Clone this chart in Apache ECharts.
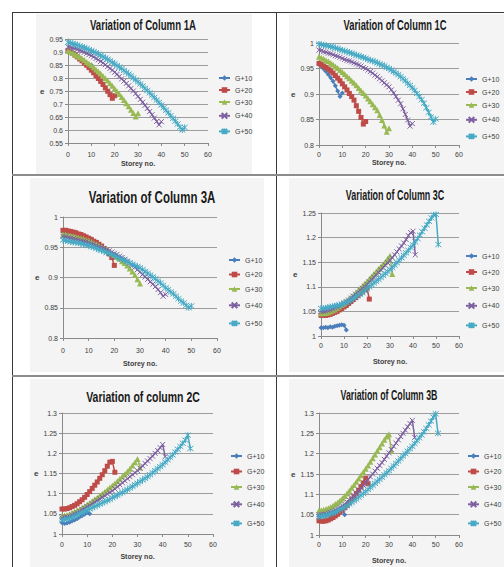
<!DOCTYPE html>
<html><head><meta charset="utf-8">
<script src="https://cdn.jsdelivr.net/npm/echarts@6/dist/echarts.min.js"></script>
<style>html,body{margin:0;padding:0;background:#fff}#c{width:504px;height:567px}</style>
</head><body><div id="c"></div>
<script>
const FONT = "'Liberation Sans',Arial,sans-serif";
const seriesNames = ['G+10','G+20','G+30','G+40','G+50'];
const panelTitles = ['Variation of Column 1A','Variation of Column 1C','Variation of Column 3A','Variation of Column 3C','Variation of column 2C','Variation of Column 3B'];
const yRanges = [[0.55,0.95],[0.8,1],[0.8,1],[1,1.25],[1,1.3],[1,1.3]];
const yStep = 0.05;
const xTicks = [0, 60, 10];
const xAxisTitle = 'Storey no.';
const yAxisTitle = 'e';

// Column 1A
const col1A_g10 = [0.908,0.903,0.898,0.892,0.885,0.878,0.870,0.862,0.853,0.844,0.850];
const col1A_g20 = [0.905,0.900,0.894,0.888,0.881,0.873,0.866,0.857,0.849,0.840,0.830,0.820,0.809,0.798,0.787,0.775,0.762,0.749,0.736,0.722,0.732];
const col1A_g30 = [0.905,0.901,0.896,0.891,0.886,0.881,0.875,0.869,0.862,0.856,0.849,0.841,0.833,0.825,0.817,0.808,0.799,0.790,0.780,0.770,0.760,0.749,0.738,0.727,0.715,0.703,0.691,0.678,0.665,0.652,0.664];
const col1A_g40 = [0.920,0.918,0.915,0.913,0.910,0.907,0.903,0.899,0.895,0.890,0.886,0.881,0.875,0.870,0.864,0.858,0.851,0.844,0.837,0.830,0.822,0.814,0.806,0.797,0.788,0.779,0.770,0.760,0.750,0.740,0.729,0.718,0.707,0.695,0.683,0.671,0.659,0.646,0.633,0.620,0.632];
const col1A_g50 = [0.937,0.935,0.932,0.930,0.927,0.923,0.920,0.917,0.913,0.909,0.905,0.901,0.897,0.892,0.887,0.882,0.877,0.872,0.866,0.860,0.855,0.848,0.842,0.836,0.829,0.822,0.815,0.808,0.800,0.793,0.785,0.777,0.769,0.760,0.752,0.743,0.734,0.725,0.715,0.706,0.696,0.686,0.676,0.666,0.655,0.645,0.634,0.623,0.611,0.600,0.610];

// Column 1C
const col1C_g10 = [0.958,0.954,0.949,0.944,0.938,0.932,0.925,0.916,0.906,0.895,0.902];
const col1C_g20 = [0.960,0.958,0.955,0.952,0.949,0.945,0.941,0.936,0.931,0.926,0.920,0.914,0.908,0.901,0.895,0.888,0.877,0.866,0.854,0.841,0.846];
const col1C_g30 = [0.973,0.971,0.969,0.966,0.964,0.961,0.958,0.954,0.951,0.947,0.943,0.939,0.935,0.931,0.926,0.922,0.917,0.912,0.907,0.902,0.897,0.891,0.886,0.880,0.874,0.868,0.859,0.849,0.838,0.826,0.833];
const col1C_g40 = [0.986,0.985,0.983,0.982,0.980,0.979,0.977,0.975,0.974,0.972,0.970,0.968,0.966,0.965,0.963,0.961,0.959,0.957,0.955,0.952,0.950,0.947,0.944,0.941,0.937,0.934,0.930,0.926,0.922,0.918,0.914,0.908,0.902,0.895,0.888,0.881,0.871,0.860,0.849,0.837,0.842];
const col1C_g50 = [0.998,0.997,0.996,0.995,0.994,0.993,0.992,0.990,0.989,0.987,0.986,0.984,0.983,0.981,0.980,0.978,0.976,0.975,0.973,0.972,0.970,0.968,0.966,0.965,0.963,0.961,0.959,0.957,0.955,0.952,0.950,0.947,0.944,0.941,0.938,0.934,0.930,0.926,0.921,0.917,0.912,0.907,0.901,0.895,0.889,0.882,0.873,0.864,0.855,0.845,0.851];

// Column 3A
const col3A_g10 = [0.975,0.975,0.974,0.974,0.973,0.972,0.971,0.970,0.968,0.967,0.964];
const col3A_g20 = [0.978,0.978,0.977,0.976,0.975,0.974,0.972,0.971,0.969,0.967,0.965,0.963,0.960,0.958,0.955,0.952,0.948,0.944,0.939,0.933,0.920];
const col3A_g30 = [0.971,0.971,0.970,0.969,0.968,0.967,0.966,0.965,0.964,0.962,0.961,0.959,0.957,0.955,0.953,0.951,0.948,0.946,0.943,0.940,0.937,0.934,0.931,0.927,0.924,0.920,0.915,0.910,0.904,0.897,0.890];
const col3A_g40 = [0.968,0.967,0.966,0.965,0.964,0.963,0.962,0.961,0.960,0.959,0.958,0.956,0.955,0.953,0.951,0.950,0.948,0.946,0.944,0.942,0.940,0.938,0.935,0.933,0.930,0.927,0.924,0.920,0.917,0.913,0.909,0.905,0.901,0.897,0.893,0.889,0.885,0.880,0.875,0.869,0.872];
const col3A_g50 = [0.962,0.961,0.960,0.959,0.958,0.958,0.957,0.956,0.955,0.954,0.953,0.951,0.950,0.948,0.946,0.945,0.943,0.941,0.940,0.938,0.936,0.934,0.932,0.930,0.928,0.926,0.924,0.922,0.920,0.918,0.916,0.913,0.910,0.907,0.904,0.901,0.898,0.894,0.891,0.887,0.883,0.880,0.876,0.873,0.869,0.865,0.861,0.858,0.854,0.850,0.853];

// Column 3C
const col3C_g10 = [1.017,1.017,1.018,1.017,1.019,1.018,1.020,1.021,1.022,1.023,1.022,1.012];
const col3C_g20 = [1.042,1.042,1.042,1.043,1.044,1.046,1.048,1.050,1.053,1.056,1.059,1.062,1.066,1.070,1.074,1.078,1.082,1.086,1.090,1.094,1.098,1.075];
const col3C_g30 = [1.046,1.046,1.047,1.048,1.050,1.052,1.054,1.057,1.060,1.063,1.066,1.070,1.074,1.078,1.082,1.087,1.091,1.096,1.101,1.106,1.111,1.116,1.121,1.126,1.131,1.136,1.141,1.146,1.151,1.157,1.163,1.126];
const col3C_g40 = [1.050,1.050,1.051,1.052,1.053,1.055,1.057,1.059,1.061,1.064,1.067,1.070,1.073,1.077,1.081,1.085,1.089,1.093,1.097,1.101,1.105,1.110,1.115,1.119,1.124,1.129,1.134,1.139,1.144,1.149,1.154,1.159,1.165,1.171,1.177,1.183,1.189,1.196,1.204,1.210,1.213,1.165];
const col3C_g50 = [1.056,1.056,1.057,1.058,1.059,1.060,1.061,1.062,1.063,1.065,1.066,1.068,1.070,1.073,1.076,1.079,1.082,1.085,1.088,1.092,1.096,1.100,1.104,1.108,1.111,1.115,1.119,1.123,1.127,1.131,1.135,1.139,1.144,1.149,1.154,1.159,1.164,1.169,1.174,1.180,1.185,1.191,1.198,1.205,1.212,1.219,1.226,1.233,1.240,1.246,1.247,1.186];

// Column 2C
const col2C_g10 = [1.028,1.026,1.027,1.029,1.032,1.035,1.038,1.042,1.045,1.049,1.053,1.050];
const col2C_g20 = [1.062,1.062,1.063,1.065,1.068,1.071,1.075,1.080,1.085,1.091,1.098,1.105,1.113,1.121,1.129,1.138,1.147,1.157,1.168,1.178,1.180,1.153];
const col2C_g30 = [1.045,1.046,1.047,1.049,1.052,1.055,1.058,1.061,1.065,1.069,1.073,1.077,1.081,1.086,1.090,1.095,1.100,1.105,1.110,1.115,1.120,1.125,1.131,1.137,1.143,1.149,1.155,1.162,1.170,1.178,1.186,1.165];
const col2C_g40 = [1.040,1.041,1.042,1.044,1.047,1.050,1.053,1.057,1.061,1.064,1.068,1.071,1.075,1.079,1.083,1.087,1.091,1.095,1.099,1.103,1.107,1.112,1.117,1.122,1.127,1.132,1.137,1.142,1.147,1.152,1.157,1.163,1.169,1.175,1.181,1.187,1.193,1.200,1.207,1.214,1.222,1.192];
const col2C_g50 = [1.035,1.036,1.037,1.039,1.041,1.044,1.047,1.050,1.053,1.056,1.059,1.062,1.065,1.068,1.071,1.074,1.077,1.080,1.083,1.086,1.090,1.093,1.096,1.100,1.103,1.107,1.110,1.114,1.118,1.122,1.126,1.130,1.134,1.138,1.142,1.147,1.152,1.157,1.162,1.167,1.172,1.178,1.184,1.190,1.196,1.203,1.210,1.217,1.225,1.233,1.245,1.212];

// Column 3B
const col3B_g10 = [1.046,1.046,1.047,1.048,1.049,1.050,1.051,1.053,1.055,1.057,1.062,1.050];
const col3B_g20 = [1.035,1.034,1.034,1.035,1.037,1.040,1.043,1.047,1.051,1.056,1.061,1.067,1.073,1.080,1.087,1.094,1.102,1.110,1.119,1.128,1.140,1.126];
const col3B_g30 = [1.060,1.061,1.062,1.064,1.066,1.069,1.072,1.076,1.080,1.085,1.090,1.096,1.102,1.109,1.116,1.123,1.131,1.139,1.147,1.155,1.163,1.171,1.180,1.189,1.198,1.207,1.216,1.225,1.234,1.242,1.248,1.207];
const col3B_g40 = [1.050,1.050,1.051,1.052,1.054,1.056,1.058,1.061,1.064,1.068,1.072,1.076,1.081,1.086,1.091,1.097,1.103,1.109,1.115,1.122,1.129,1.136,1.143,1.150,1.157,1.164,1.171,1.178,1.186,1.194,1.202,1.210,1.218,1.226,1.234,1.242,1.250,1.258,1.266,1.274,1.282,1.240];
const col3B_g50 = [1.045,1.046,1.047,1.048,1.050,1.052,1.054,1.056,1.059,1.062,1.065,1.068,1.072,1.076,1.080,1.084,1.088,1.093,1.098,1.102,1.107,1.112,1.117,1.122,1.127,1.132,1.137,1.142,1.148,1.153,1.158,1.164,1.170,1.176,1.182,1.188,1.194,1.200,1.206,1.212,1.218,1.225,1.232,1.239,1.246,1.254,1.262,1.271,1.280,1.290,1.298,1.250];

const panelData = [
  [col1A_g10,col1A_g20,col1A_g30,col1A_g40,col1A_g50],
  [col1C_g10,col1C_g20,col1C_g30,col1C_g40,col1C_g50],
  [col3A_g10,col3A_g20,col3A_g30,col3A_g40,col3A_g50],
  [col3C_g10,col3C_g20,col3C_g30,col3C_g40,col3C_g50],
  [col2C_g10,col2C_g20,col2C_g30,col2C_g40,col2C_g50],
  [col3B_g10,col3B_g20,col3B_g30,col3B_g40,col3B_g50]
];

// ---- layout & style (separate from data) ----
// title: [centerX, centerY, fontSize, scaleX]; legend: [left, top, itemGap]
const layout = [
  {grid:[68,39,140,104], title:[143,25,14,0.69], legend:[218,74.5,5], yGap:18, xGap:17, xMargin:8, bg:[36,14,216,160]},
  {grid:[319,43,140,102], title:[395,25,14,0.67], legend:[465,75.5,6], yGap:20, xGap:14, xMargin:6, bg:[289,14,215,160]},
  {grid:[63,217,154,121], title:[152,197,16,0.72], legend:[228,256.5,7.5], yGap:22, xGap:22, xMargin:9, bg:[30,178,234,194]},
  {grid:[321,213,138,123], title:[395,195,14,0.64], legend:[465,252.5,9], yGap:18, xGap:22, xMargin:6, bg:[289,178,215,194]},
  {grid:[62,413,151,121], title:[143,397,15,0.70], legend:[230,452.5,8.5], yGap:22, xGap:19, xMargin:7, bg:[30,379,234,188]},
  {grid:[319,413,140,122], title:[389,395,14,0.63], legend:[467,452.5,8.5], yGap:16, xGap:22, xMargin:6, bg:[289,379,215,188]}
];
const lineColors = ['#4A7EBB','#BE4B48','#98B954','#7D60A0','#46AAC5'];
const symbols = ['diamond','rect','triangle','path://M0 0L10 10M10 0L0 10','path://M0 0L10 10M10 0L0 10M5 -1L5 11'];
const symbolSizes = [5,5,6,5,6];

const grids=[], xAxes=[], yAxes=[], series=[], legends=[], graphics=[];
layout.forEach((L,p)=>{
  grids.push({left:L.grid[0], top:L.grid[1], width:L.grid[2], height:L.grid[3]});
  const axisCol = '#8a8a8a';
  xAxes.push({gridIndex:p, type:'value', min:xTicks[0], max:xTicks[1], interval:xTicks[2],
    axisLine:{show:true, lineStyle:{color:axisCol}}, axisTick:{show:true, length:3, lineStyle:{color:axisCol}},
    splitLine:{show:false},
    axisLabel:{fontSize:7, color:'#404040', fontFamily:FONT, margin:L.xMargin},
    name:xAxisTitle, nameLocation:'middle', nameGap:L.xGap,
    nameTextStyle:{fontSize:7, fontWeight:'bold', color:'#404040', fontFamily:FONT}});
  yAxes.push({gridIndex:p, type:'value', min:yRanges[p][0], max:yRanges[p][1], interval:yStep,
    axisLine:{show:true, lineStyle:{color:axisCol}}, axisTick:{show:true, length:3, lineStyle:{color:axisCol}},
    splitLine:{show:true, lineStyle:{color:'#9c9c9c', width:1}},
    axisLabel:{fontSize:7, color:'#404040', fontFamily:FONT, margin:5},
    name:yAxisTitle, nameLocation:'middle', nameRotate:0, nameGap:L.yGap,
    nameTextStyle:{fontSize:8, fontWeight:'bold', color:'#404040', fontFamily:FONT}});
  panelData[p].forEach((arr,k)=>{
    const isPath = k>=3;
    series.push({type:'line', name:seriesNames[k], xAxisIndex:p, yAxisIndex:p,
      data: arr.map((v,i)=>[i,v]),
      symbol:symbols[k], symbolSize:symbolSizes[k], showSymbol:true,
      lineStyle:{color:lineColors[k], width:1.5},
      itemStyle:{color:isPath?'none':lineColors[k], borderColor:lineColors[k], borderWidth:isPath?1:0},
      emphasis:{disabled:true}, z:2+k});
  });
  legends.push({orient:'vertical', left:L.legend[0], top:L.legend[1], itemGap:L.legend[2],
    itemWidth:11, itemHeight:7, padding:0, selectedMode:false, data:seriesNames,
    textStyle:{fontSize:7, color:'#404040', fontFamily:FONT}});
  graphics.push({type:'rect', z:-10, shape:{x:L.bg[0], y:L.bg[1], width:L.bg[2], height:L.bg[3]}, style:{fill:'#f4f4f4'}});
  graphics.push({type:'text', z:20, x:L.title[0], y:L.title[1], scaleX:L.title[3], scaleY:1,
    style:{text:panelTitles[p], fill:'#1a1a1a', font:'bold '+L.title[2]+'px '+FONT,
      align:'center', verticalAlign:'middle', textAlign:'center', textVerticalAlign:'middle'}});
});
// table borders
const vLine = (x)=>({type:'line', z:30, shape:{x1:x, y1:12, x2:x, y2:567}, style:{stroke:'#3a3a3a', lineWidth:1}});
const hLine = (y,w,c)=>({type:'line', z:30, shape:{x1:12, y1:y, x2:504, y2:y}, style:{stroke:c, lineWidth:w}});
graphics.push(vLine(12.5), vLine(276.5), hLine(12.5,1,'#3a3a3a'), hLine(175,2,'#8c8c8c'), hLine(376,2,'#8c8c8c'));

const chart = echarts.init(document.getElementById('c'), null, {renderer:'svg'});
chart.setOption({animation:false, backgroundColor:'#ffffff', grid:grids, xAxis:xAxes, yAxis:yAxes, series:series, legend:legends, graphic:{elements:graphics}});
</script></body></html>
